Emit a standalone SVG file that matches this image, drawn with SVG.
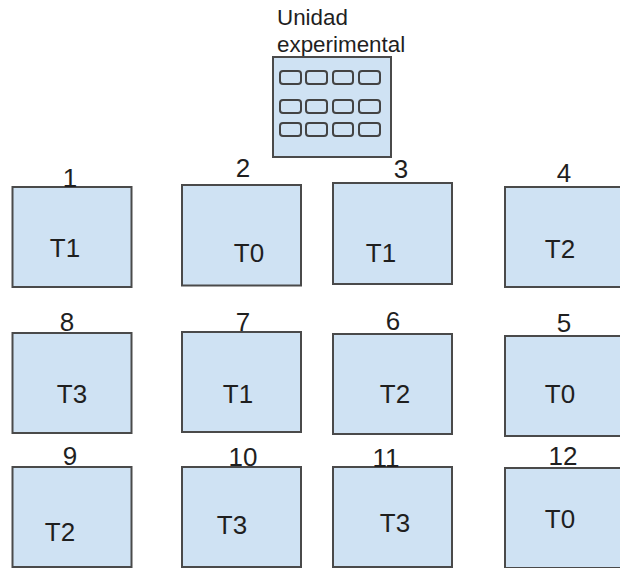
<svg xmlns="http://www.w3.org/2000/svg" width="620" height="568" viewBox="0 0 620 568">
<style>
text{font-family:"Liberation Sans",Arial,sans-serif;fill:#1f1f1f}
.n{font-size:26px;text-anchor:middle}
.t{font-size:26px;text-anchor:middle}
.l{font-size:22.400px}
.b{fill:#cfe2f3;stroke:#4a4a4a;stroke-width:2}
.c{fill:#cfe2f3;stroke:#434343;stroke-width:2}
</style>
<rect width="620" height="568" fill="#fff"/>
<g id="unit">
<text class="l" x="277" y="25">Unidad</text>
<text class="l" x="277" y="52">experimental</text>
<rect class="b" x="273" y="57" width="118" height="100"/>
<rect class="c" x="280" y="71" width="21" height="13" rx="3"/><rect class="c" x="306" y="71" width="21" height="13" rx="3"/><rect class="c" x="333" y="71" width="20" height="13" rx="3"/><rect class="c" x="359" y="71" width="21" height="13" rx="3"/>
<rect class="c" x="280" y="100" width="21" height="13" rx="3"/><rect class="c" x="306" y="100" width="21" height="13" rx="3"/><rect class="c" x="333" y="100" width="20" height="13" rx="3"/><rect class="c" x="359" y="100" width="21" height="13" rx="3"/>
<rect class="c" x="280" y="123" width="21" height="13" rx="3"/><rect class="c" x="306" y="123" width="21" height="13" rx="3"/><rect class="c" x="333" y="123" width="20" height="13" rx="3"/><rect class="c" x="359" y="123" width="21" height="13" rx="3"/>
</g>
<g id="connectors"></g>
<g id="n1"><rect class="b" x="12.500" y="187" width="119" height="100"/><text class="n" x="70" y="187">1</text><text class="t" x="65" y="257">T1</text></g>
<g id="n2"><rect class="b" x="182" y="185" width="119" height="100.500"/><text class="n" x="243" y="177">2</text><text class="t" x="249" y="262">T0</text></g>
<g id="n3"><rect class="b" x="333" y="183" width="119" height="101"/><text class="n" x="401" y="178">3</text><text class="t" x="381" y="262">T1</text></g>
<g id="n4"><rect class="b" x="505" y="187" width="119" height="100"/><text class="n" x="564" y="182">4</text><text class="t" x="560" y="258">T2</text></g>
<g id="n8"><rect class="b" x="12.500" y="333" width="119" height="100"/><text class="n" x="67" y="331">8</text><text class="t" x="72" y="403">T3</text></g>
<g id="n7"><rect class="b" x="182" y="332" width="119" height="100"/><text class="n" x="243" y="331">7</text><text class="t" x="238" y="403">T1</text></g>
<g id="n6"><rect class="b" x="333" y="334" width="119" height="100"/><text class="n" x="393" y="330">6</text><text class="t" x="395" y="403">T2</text></g>
<g id="n5"><rect class="b" x="505" y="336" width="119" height="100"/><text class="n" x="564" y="332">5</text><text class="t" x="560" y="403">T0</text></g>
<g id="n9"><rect class="b" x="12.500" y="467" width="119" height="100"/><text class="n" x="70" y="465">9</text><text class="t" x="60" y="541">T2</text></g>
<g id="n10"><rect class="b" x="182" y="467" width="119" height="100"/><text class="n" x="243" y="466">10</text><text class="t" x="232" y="534">T3</text></g>
<g id="n11"><rect class="b" x="333" y="467" width="119" height="100"/><text class="n" x="386" y="467">11</text><text class="t" x="395" y="532">T3</text></g>
<g id="n12"><rect class="b" x="505" y="468" width="119" height="100"/><text class="n" x="563" y="465">12</text><text class="t" x="560" y="528">T0</text></g>
</svg>
